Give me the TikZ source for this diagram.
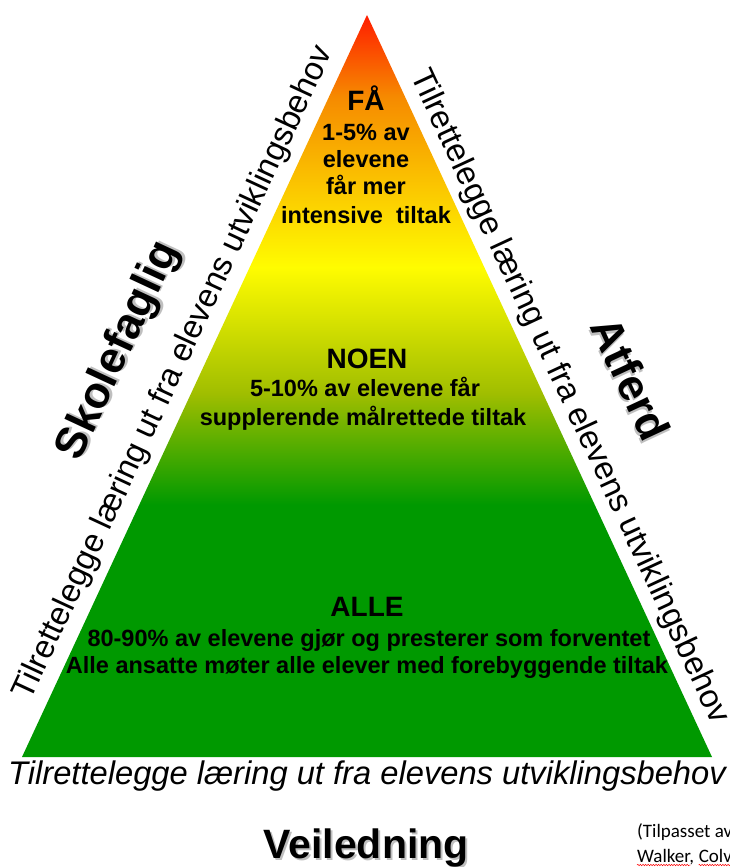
\documentclass[tikz,border=0pt]{standalone}
\usepackage{fontspec}
\setmainfont{Liberation Sans}
\newfontfamily\notefont{Carlito}
\usetikzlibrary{decorations.pathmorphing}

\definecolor{pyrRed}{RGB}{255,28,0}
\definecolor{pyrOrange}{RGB}{246,138,0}
\definecolor{pyrYellow}{RGB}{255,252,0}
\definecolor{pyrLime}{RGB}{160,190,0}
\definecolor{pyrGreen}{RGB}{0,153,0}

% vertical colour ramp of the pyramid (path box maps to 25bp..75bp)
\pgfdeclareverticalshading{pyramidramp}{100bp}{%
  color(0bp)=(pyrGreen); color(42bp)=(pyrGreen);
  color(49.5bp)=(pyrLime); color(58bp)=(pyrYellow);
  color(69.5bp)=(pyrOrange); color(75bp)=(pyrRed);
  color(100bp)=(pyrRed)}

\tikzset{
  levelhead/.style={font=\bfseries\fontsize{28}{30}\selectfont, inner sep=0pt, anchor=base},
  levelbody/.style={font=\bfseries\fontsize{23.5}{28}\selectfont, inner sep=0pt, anchor=base},
  edgetext/.style={font=\fontsize{32.7}{36}\selectfont, inner sep=0pt},
  basetext/.style={font=\itshape\fontsize{32.7}{36}\selectfont, inner sep=0pt, anchor=base},
  areatitle/.style={font=\bfseries\fontsize{44}{48}\selectfont, inner sep=0pt},
  titleshade/.style={text=black, opacity=0.25, xshift=2pt, yshift=-2pt},
  notetext/.style={font=\notefont\fontsize{19}{22}\selectfont, inner sep=0pt, anchor=base west},
  spellmark/.style={draw=red, line width=0.5pt, decorate,
    decoration={snake, amplitude=0.7pt, segment length=2.6pt}}
}

\begin{document}
\begin{tikzpicture}[x=1pt, y=-1pt]
\useasboundingbox (0,0) rectangle (730,867);

% pyramid
\coordinate (apex) at (367,15);
\coordinate (bl) at (22,757);
\coordinate (br) at (712,757);
\shade[shading=pyramidramp] (apex) -- (br) -- (bl) -- cycle;

% top level
\node[levelhead] (fa)  at (366,110) {FÅ};
\node[levelbody] (fa1) at (366,140) {1-5\% av};
\node[levelbody] (fa2) at (366,167) {elevene};
\node[levelbody] (fa3) at (366,194) {får mer};
\node[levelbody] (fa4) at (366,223) {intensive\ \ tiltak};

% middle level
\node[levelhead] (noen)  at (367,368) {NOEN};
\node[levelbody] (noen1) at (365,396) {5-10\% av elevene får};
\node[levelbody] (noen2) at (363,425) {supplerende målrettede tiltak};

% bottom level
\node[levelhead] (alle)  at (367,616) {ALLE};
\node[levelbody] (alle1) at (369,646) {80-90\% av elevene gjør og presterer som forventet};
\node[levelbody] (alle2) at (367,673) {Alle ansatte møter alle elever med forebyggende tiltak};

% texts along the three sides
\node[edgetext, rotate=65.06]  (leftside)  at (174,373) {Tilrettelegge læring ut fra elevens utviklingsbehov};
\node[edgetext, rotate=-65.06] (rightside) at (569,397) {Tilrettelegge læring ut fra elevens utviklingsbehov};
\node[basetext] (bottomside) at (367,784) {Tilrettelegge læring ut fra elevens utviklingsbehov};

% area titles with drop shadow
\node[areatitle, rotate=65.06, titleshade] (skoleshadow) at (119,351) {Skolefaglig};
\node[areatitle, rotate=65.06] (skole) at (119,351) {Skolefaglig};
\node[areatitle, rotate=-65.06, titleshade] (atferdshadow) at (631,379) {Atferd};
\node[areatitle, rotate=-65.06] (atferd) at (631,379) {Atferd};
\node[areatitle, font=\bfseries\fontsize{41}{44}\selectfont, anchor=base, titleshade] (veilshadow) at (366,858) {Veiledning};
\node[areatitle, font=\bfseries\fontsize{41}{44}\selectfont, anchor=base] (veil) at (366,858) {Veiledning};

% source note, running off the right edge
\node[notetext] (source) at (637,837) {(Tilpasset av};
\node[notetext] (walker) at (637,862) {Walker,};
\node[notetext, anchor=base west, xshift=4.3pt] (colv) at (walker.base east) {Colv};
\draw[spellmark] ([yshift=-3pt]walker.base west) -- ([yshift=-3pt, xshift=-4pt]walker.base east);
\draw[spellmark] ([yshift=-3pt]colv.base west) -- ([yshift=-3pt]colv.base east);
\end{tikzpicture}
\end{document}
